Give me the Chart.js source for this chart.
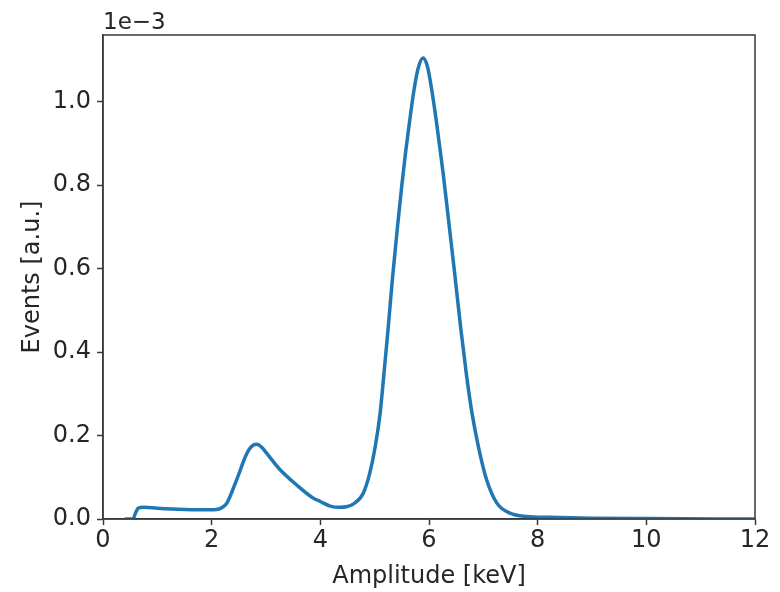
<!DOCTYPE html>
<html>
<head>
<meta charset="utf-8">
<script src="https://cdn.jsdelivr.net/npm/chart.js@4/dist/chart.umd.min.js"></script>
<style>
  html, body { margin: 0; padding: 0; background: #fff; }
  #wrap { width: 780px; height: 592px; }
</style>
</head>
<body>
<div id="wrap"><canvas id="spectrum"></canvas></div>
<script>
// amplitude in keV, events in units of 1e-3
var amplitudeKeV = [0.40, 0.55, 0.60, 0.65, 0.75, 1.00, 1.50, 1.80, 2.09, 2.20, 2.28, 2.46, 2.64, 2.72, 2.83, 2.92, 3.01, 3.26, 3.56, 3.87, 4.00, 4.18, 4.36, 4.50, 4.61, 4.79, 4.91, 5.01, 5.10, 5.16, 5.25, 5.33, 5.42, 5.50, 5.57, 5.64, 5.72, 5.80, 5.89, 5.97, 6.05, 6.14, 6.26, 6.37, 6.48, 6.58, 6.69, 6.79, 6.91, 7.06, 7.25, 7.49, 7.80, 8.23, 9.00, 10.00, 12.00];
var eventsE3 = [0.000, 0.000, 0.015, 0.026, 0.028, 0.026, 0.023, 0.022, 0.023, 0.028, 0.038, 0.094, 0.155, 0.172, 0.179, 0.172, 0.158, 0.118, 0.082, 0.050, 0.042, 0.031, 0.028, 0.030, 0.036, 0.062, 0.110, 0.173, 0.253, 0.333, 0.460, 0.580, 0.700, 0.800, 0.880, 0.950, 1.025, 1.080, 1.105, 1.085, 1.029, 0.949, 0.829, 0.705, 0.580, 0.462, 0.345, 0.255, 0.173, 0.094, 0.038, 0.014, 0.006, 0.004, 0.002, 0.001, 0.000];

var xTicks = [0, 2, 4, 6, 8, 10, 12];
var yTicks = [0.0, 0.2, 0.4, 0.6, 0.8, 1.0];
var offsetText = '1e\u22123';

var points = amplitudeKeV.map(function(x, i) {
  return { x: x, y: eventsE3[i] };
});

var ink = '#262626';
var spine = '#3a3a3a';
var font = { family: 'DejaVu Sans', size: 24 };

// top/right spines and the "1e-3" offset label
var frame = {
  id: 'frame',
  afterDraw: function(chart) {
    var a = chart.chartArea;
    var c = chart.ctx;
    c.save();
    c.strokeStyle = spine;
    c.lineWidth = 1.5;
    c.strokeRect(a.left, a.top, a.right - a.left, a.bottom - a.top);
    c.fillStyle = ink;
    c.font = '23px "DejaVu Sans"';
    c.textAlign = 'left';
    c.textBaseline = 'alphabetic';
    c.fillText(offsetText, a.left, a.top - 6);
    c.restore();
  }
};

var ctx = document.getElementById('spectrum').getContext('2d');
new Chart(ctx, {
  type: 'scatter',
  data: {
    datasets: [{
      data: points,
      showLine: true,
      borderColor: '#1f77b4',
      borderWidth: 3.5,
      pointRadius: 0,
      cubicInterpolationMode: 'monotone'
    }]
  },
  options: {
    responsive: true,
    maintainAspectRatio: false,
    animation: false,
    layout: { padding: { left: 0, top: 35, right: 25, bottom: 0 } },
    plugins: { legend: { display: false }, tooltip: { enabled: false } },
    scales: {
      x: {
        type: 'linear',
        min: 0,
        max: 12,
        afterFit: function(s) { s.height = 73; },
        afterBuildTicks: function(s) { s.ticks = xTicks.map(function(v) { return { value: v }; }); },
        ticks: { color: ink, font: font, padding: 1, maxRotation: 0,
          callback: function(v) { return String(v); } },
        grid: { drawOnChartArea: false, tickLength: 6, color: spine, tickWidth: 1.5 },
        border: { color: spine, width: 1.5 },
        title: { display: true, text: 'Amplitude [keV]', color: ink, font: font, padding: { top: 0, bottom: 1 } }
      },
      y: {
        type: 'linear',
        min: 0,
        max: 1.16,
        afterFit: function(s) { s.width = 103; },
        afterBuildTicks: function(s) { s.ticks = yTicks.map(function(v) { return { value: v }; }); },
        ticks: { color: ink, font: font, padding: 6,
          callback: function(v) { return Number(v).toFixed(1); } },
        grid: { drawOnChartArea: false, tickLength: 6, color: spine, tickWidth: 1.5 },
        border: { color: spine, width: 1.5 },
        title: { display: true, text: 'Events [a.u.]', color: ink, font: font, padding: { top: 18, bottom: 0 } }
      }
    }
  },
  plugins: [frame]
});
</script>
</body>
</html>
